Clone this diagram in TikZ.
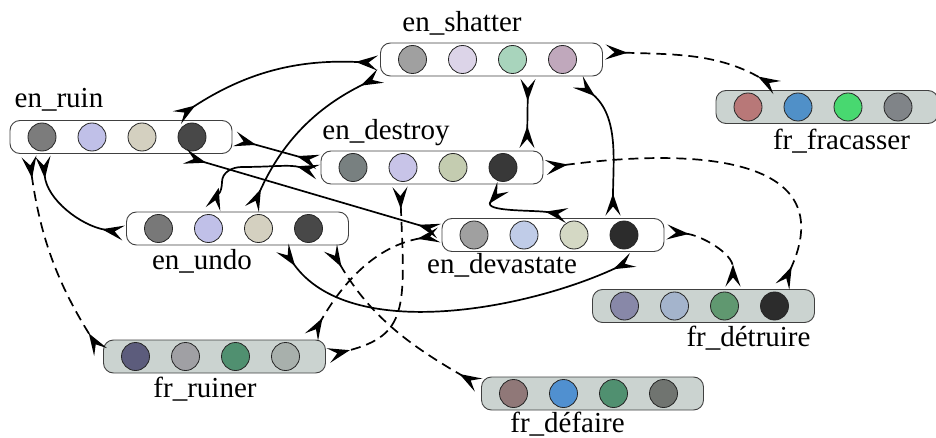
\documentclass[tikz,border=0pt]{standalone}
\usepackage{fontspec}
\setmainfont{Liberation Serif}
\usetikzlibrary{arrows.meta}
\definecolor{frfill}{HTML}{CBD3D0}
\tikzset{
    emb/.style={draw=black!75, line width=0.9pt, rounded corners=10pt,
        minimum width=222pt, minimum height=33pt, inner sep=0pt, outer sep=3pt},
    en/.style={emb, fill=white},
    fr/.style={emb, fill=frfill},
    dot/.style={circle, draw=black!85, line width=0.8pt, minimum size=28pt, inner sep=0pt},
    lbl/.style={anchor=base, inner sep=0pt, font=\fontsize{29}{34}\selectfont},
    link/.style={{Stealth[reversed,length=22pt,width=15pt,inset=9pt]}-{Stealth[reversed,length=22pt,width=15pt,inset=9pt]},
        line width=1.7pt},
    dlink/.style={link, dash pattern=on 10pt off 6pt}
}
\begin{document}
\begin{tikzpicture}[x=1pt,y=1pt]
    \useasboundingbox (0,0) rectangle (936,437);

    % word embeddings
    \node[en] (shatter) at (491.5,377.5) {};
    \node[en] (ruin) at (121,300) {};
    \node[en] (destroy) at (432,269.5) {};
    \node[en] (undo) at (237.5,208.5) {};
    \node[en] (devastate) at (553,202) {};
    \node[fr] (fracasser) at (827,330) {};
    \node[fr] (detruire) at (703.5,131) {};
    \node[fr] (ruiner) at (214.5,80.5) {};
    \node[fr] (defaire) at (592.5,43.5) {};

    \foreach \b/\cols in {shatter/{A0A0A0,DCD4E8,A8D4BC,C0A8BC},
            ruin/{7C7C7C,C0C0E8,D4D0C0,484848},
            destroy/{788080,C8C4E8,C4CCB0,383838},
            undo/{787878,C0C0E8,D4D0C0,484848},
            devastate/{A0A0A0,C0CCE8,D4D8C4,2C2C2C},
            fracasser/{B87878,5090C8,48D870,808488},
            detruire/{8888A8,A4B4CC,609870,2C2C2C},
            ruiner/{5C5C7C,A0A0A4,509070,A8B0AC},
            defaire/{907878,5090D0,509070,707470}} {
        \foreach \c [count=\i] in \cols {
            \definecolor{dotcol}{HTML}{\c}
            \node[dot, fill=dotcol] (\b-\i) at ([xshift={(50*\i-129)*1pt}]\b.center) {};
        }
    }

    \node[lbl] (shatter-l) at (462,405) {en\_shatter};
    \node[lbl] (ruin-l) at (59,329) {en\_ruin};
    \node[lbl] (destroy-l) at (386,297) {en\_destroy};
    \node[lbl] (undo-l) at (202,168) {en\_undo};
    \node[lbl] (devastate-l) at (502,164) {en\_devastate};
    \node[lbl] (fracasser-l) at (841.5,287) {fr\_fracasser};
    \node[lbl] (detruire-l) at (748.5,91) {fr\_détruire};
    \node[lbl] (ruiner-l) at (205,40) {fr\_ruiner};
    \node[lbl] (defaire-l) at (567.5,5) {fr\_défaire};

    % english - english
    \draw[link] ([xshift=56pt]ruin.north) to[bend left=18] ([yshift=-3.5pt]shatter.west);
    \draw[link] ([xshift=14.5pt]undo.north) to[bend left=20] ([xshift=3pt,yshift=3pt]shatter.south west);
    \draw[link] ([yshift=-2pt]ruin.east) -- ([yshift=5.5pt]destroy.west);
    \draw[link] ([xshift=64pt]ruin.south) -- ([yshift=4pt]devastate.west);
    \draw[link] ([xshift=-24.5pt]undo.north) to[out=75,in=-90] ++(9,27)
        to[out=90,in=180] ++(20,15) to[out=0,in=165] ([yshift=-4.5pt]destroy.west);
    \draw[link] ([xshift=-78pt]ruin.south) to[out=-85,in=170] ([yshift=-4.5pt]undo.west);
    \draw[link] ([xshift=36.5pt]shatter.south) -- ([xshift=95pt]destroy.north);
    \draw[link] ([xshift=86.5pt,yshift=-3pt]shatter.south) to[out=-40,in=90] ([xshift=60pt]devastate.north);
    \draw[link] ([xshift=71pt]destroy.south) to[out=-130,in=170,looseness=1.2] ([xshift=14pt]devastate.north);
    \draw[link] ([xshift=45pt]undo.south) to[out=-55,in=205,looseness=0.85] ([xshift=80pt,yshift=-5.5pt]devastate.south);

    % english - french
    \draw[dlink] ([xshift=-92pt]ruin.south) to[bend right=12] ([yshift=4.5pt]ruiner.west);
    \draw[dlink] ([yshift=7.5pt]shatter.east) to[out=-2,in=150] ([xshift=-50pt]fracasser.north);
    \draw[dlink] (destroy.east) .. controls +(150,20) and +(60,130) .. ([xshift=79pt]detruire.north);
    \draw[dlink] ([yshift=3pt]devastate.east) to[out=-5,in=90] ([xshift=29.5pt]detruire.north);
    \draw[dlink] ([xshift=93pt]undo.south) to[out=-60,in=150] ([yshift=8.5pt]defaire.west);
    \draw[dlink] ([xshift=-32pt]destroy.south) .. controls +(5,-120) and +(80,20) .. ([yshift=1pt]ruiner.east);
    \draw[dlink] (devastate.west) to[out=190,in=60] ([xshift=97pt]ruiner.north);
\end{tikzpicture}
\end{document}
